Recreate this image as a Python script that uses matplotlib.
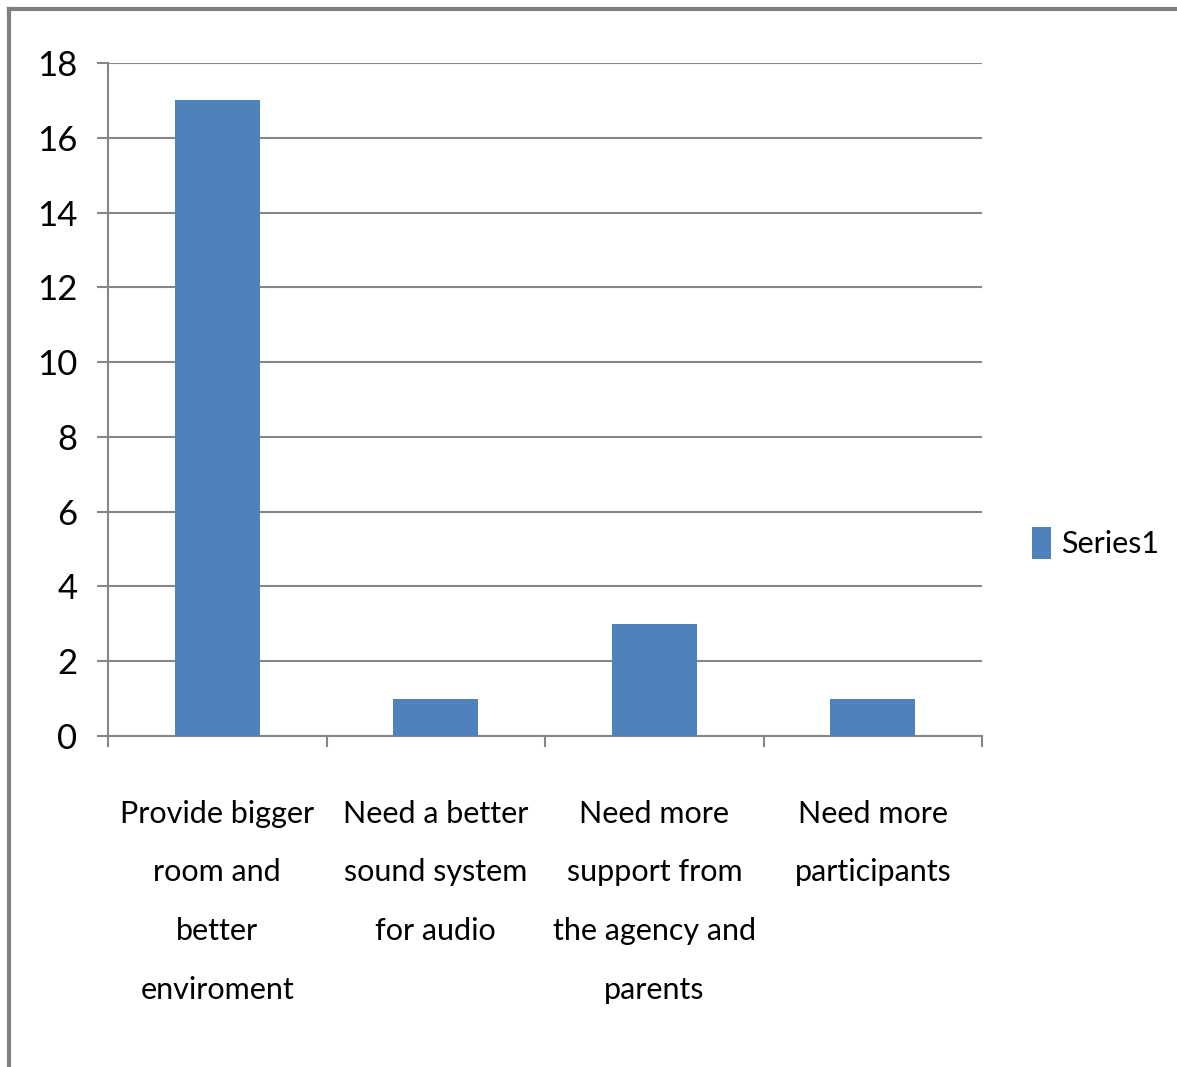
import matplotlib.pyplot as plt
from matplotlib.lines import Line2D
from matplotlib.patches import Patch

categories = ['Provide bigger\nroom and\nbetter\nenviroment',
              'Need a better\nsound system\nfor audio',
              'Need more\nsupport from\nthe agency and\nparents',
              'Need more\nparticipants']
values = [17, 1, 3, 1]
yticks = [0, 2, 4, 6, 8, 10, 12, 14, 16, 18]
series_name = 'Series1'

plt.rcParams['font.family'] = ['Lato', 'DejaVu Sans']

bar_color = '#4F81BD'
grid_color = '#868686'

fig = plt.figure(figsize=(11.77, 10.67), dpi=100)
ax = fig.add_axes([0.0918, 0.3102, 0.7426, 0.6307])

x = list(range(len(categories)))
ax.bar(x, values, width=0.39, color=bar_color, zorder=3)

ax.set_xlim(-0.5, 3.5)
ax.set_ylim(0, 18)
ax.set_yticks(yticks)
ax.set_yticklabels([str(v) for v in yticks], fontsize=25)
ax.yaxis.grid(True, color=grid_color, linewidth=1.5, zorder=0)

# category labels at centres, tick marks at boundaries
ax.set_xticks(x)
ax.set_xticklabels(categories, fontsize=22, linespacing=2.33, va='top')
ax.tick_params(axis='x', length=0, pad=46)
ax.set_xticks([i - 0.5 for i in range(len(categories) + 1)], minor=True)
ax.tick_params(axis='x', which='minor', length=8, width=1.5, color=grid_color, direction='out')
ax.tick_params(axis='y', length=8, width=1.5, color=grid_color, direction='out', pad=14)

for side in ['top', 'right']:
    ax.spines[side].set_visible(False)
for side in ['left', 'bottom']:
    ax.spines[side].set_color(grid_color)
    ax.spines[side].set_linewidth(1.5)

handle = Patch(facecolor=bar_color, label=series_name)
fig.legend(handles=[handle], loc='center left', bbox_to_anchor=(0.864, 0.491),
           frameon=False, fontsize=22, handlelength=0.6, handleheight=1.2,
           handletextpad=0.35, borderpad=0)

# outer chart border (top and left visible)
fig.add_artist(Line2D([0.0077, 0.0077], [0, 0.9915], color='#7F7F7F', linewidth=3,
                      transform=fig.transFigure))
fig.add_artist(Line2D([0.0077, 1.0], [0.9915, 0.9915], color='#7F7F7F', linewidth=3,
                      transform=fig.transFigure))

plt.savefig('out.png', dpi=100)
